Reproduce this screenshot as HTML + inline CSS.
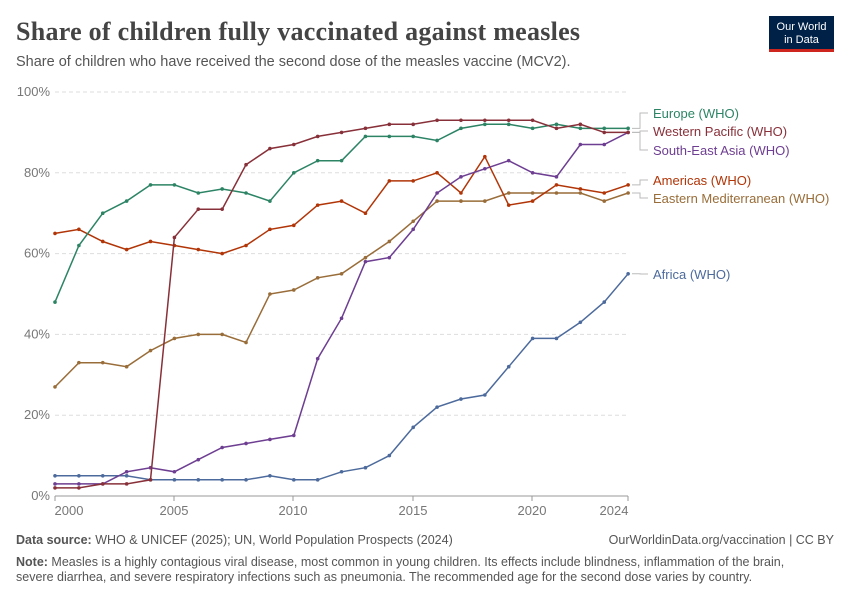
<!DOCTYPE html>
<html><head><meta charset="utf-8"><style>
body{margin:0;width:850px;height:600px;background:#fff;font-family:"Liberation Sans",sans-serif;overflow:hidden}
</style></head><body>
<svg width="850" height="600" xmlns="http://www.w3.org/2000/svg" id="s">
<text x="16" y="40" font-family="Liberation Serif,serif" font-size="26" font-weight="bold" fill="#444" letter-spacing="0.27">Share of children fully vaccinated against measles</text>
<text x="16" y="66" font-size="14.5" fill="#555">Share of children who have received the second dose of the measles vaccine (MCV2).</text>
<rect x="769" y="16" width="65" height="35" fill="#002147"/>
<rect x="769" y="49" width="65" height="3" fill="#ce261e"/>
<text x="801.5" y="30" font-size="11" fill="#fff" text-anchor="middle">Our World</text>
<text x="801.5" y="43" font-size="11" fill="#fff" text-anchor="middle">in Data</text>
<g id="grid" font-size="13" fill="#777"></g>
<g id="lines"></g>
<g font-size="13">
<text x="653" y="118" fill="#2c8465">Europe (WHO)</text>
<text x="653" y="136" fill="#883039">Western Pacific (WHO)</text>
<text x="653" y="155" fill="#6d3e91">South-East Asia (WHO)</text>
<text x="653" y="185" fill="#b13507">Americas (WHO)</text>
<text x="653" y="203" fill="#996d39">Eastern Mediterranean (WHO)</text>
<text x="653" y="279" fill="#4c6a9c">Africa (WHO)</text>
</g>
<text x="16" y="544" font-size="12.5" fill="#555"><tspan font-weight="bold">Data source:</tspan> WHO &amp; UNICEF (2025); UN, World Population Prospects (2024)</text>
<text x="834" y="544" font-size="12.5" fill="#555" text-anchor="end">OurWorldinData.org/vaccination | CC BY</text>
<text x="16" y="566" font-size="12.5" fill="#555"><tspan font-weight="bold">Note:</tspan> Measles is a highly contagious viral disease, most common in young children. Its effects include blindness, inflammation of the brain,</text>
<text x="16" y="581" font-size="12.5" fill="#555">severe diarrhea, and severe respiratory infections such as pneumonia. The recommended age for the second dose varies by country.</text>
</svg>
<script>
var NS="http://www.w3.org/2000/svg";
function el(p,t,a,txt){var e=document.createElementNS(NS,t);for(var k in a)e.setAttribute(k,a[k]);if(txt)e.textContent=txt;p.appendChild(e);return e;}
var g=document.getElementById('grid'),L=document.getElementById('lines');
function Y(v){return 496-v*4.04;}function X(i){return 55+i*23.88;}
for(var v=0;v<=100;v+=20){var y=Y(v);
 if(v>0)el(g,'line',{x1:55,x2:628,y1:y,y2:y,stroke:'#ddd','stroke-dasharray':'4,3'});
 el(g,'text',{x:50,y:y+4,'text-anchor':'end'},v+'%');}
el(g,'line',{x1:55,x2:628,y1:496,y2:496,stroke:'#999'});
[[69,'2000',55],[174,'2005',174],[293,'2010',293],[413,'2015',413],[532,'2020',532],[614,'2024',628]].forEach(function(t){
 el(g,'line',{x1:t[2],x2:t[2],y1:496,y2:501,stroke:'#999'});
 el(g,'text',{x:t[0],y:515,'text-anchor':'middle'},t[1]);});
var D=[
['#4c6a9c',[5,5,5,5,4,4,4,4,4,5,4,4,6,7,10,17,22,24,25,32,39,39,43,48,55],55],
['#996d39',[27,33,33,32,36,39,40,40,38,50,51,54,55,59,63,68,73,73,73,75,75,75,75,73,75],75],
['#b13507',[65,66,63,61,63,62,61,60,62,66,67,72,73,70,78,78,80,75,84,72,73,77,76,75,77],77],
['#6d3e91',[3,3,3,6,7,6,9,12,13,14,15,34,44,58,59,66,75,79,81,83,80,79,87,87,90],90],
['#2c8465',[48,62,70,73,77,77,75,76,75,73,80,83,83,89,89,89,88,91,92,92,91,92,91,91,91],91],
['#883039',[2,2,3,3,4,64,71,71,82,86,87,89,90,91,92,92,93,93,93,93,93,91,92,90,90],90]];
D.forEach(function(d){var pts=d[1].map(function(v,i){return X(i).toFixed(1)+','+Y(v).toFixed(1)}).join(' ');
 el(L,'polyline',{points:pts,fill:'none',stroke:d[0],'stroke-width':1.5});
 d[1].forEach(function(v,i){el(L,'circle',{cx:X(i),cy:Y(v),r:1.8,fill:d[0]});});});
var lab=[[91,113],[90,131],[90,150],[77,180],[75,198],[55,274]];
lab.forEach(function(l){el(L,'polyline',{points:'632,'+Y(l[0])+' 640,'+Y(l[0])+' 640,'+l[1]+' 648,'+l[1],fill:'none',stroke:'#bbb','stroke-width':1});});
</script>
</body></html>
